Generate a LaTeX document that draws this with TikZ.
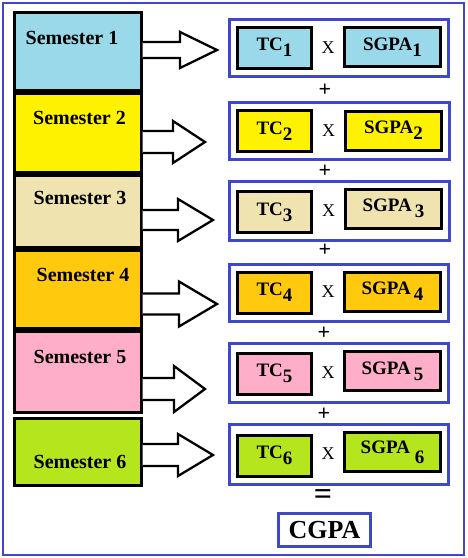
\documentclass[tikz,border=0pt]{standalone}
\usepackage{fontspec}
\setmainfont{Liberation Serif}
\definecolor{SemBlue}{HTML}{99D9EA}
\definecolor{SemYellow}{HTML}{FFF200}
\definecolor{SemTan}{HTML}{EFE4B0}
\definecolor{SemGold}{HTML}{FFC90E}
\definecolor{SemPink}{HTML}{FFAEC9}
\definecolor{SemLime}{HTML}{B5E61D}
\definecolor{FrameBlue}{HTML}{3F48CC}
\usetikzlibrary{positioning,fit,calc}

\tikzset{
  sembox/.style={draw, line width=3pt, minimum width=127pt, inner sep=0pt},
  semlabel/.style={font=\fontsize{20}{22}\selectfont\bfseries},
  valbox/.style={draw, line width=3pt, inner sep=0pt, font=\fontsize{19}{21}\selectfont\bfseries},
  tcbox/.style={valbox, minimum width=74pt, minimum height=41pt},
  sgbox/.style={valbox, minimum width=96pt, minimum height=39pt},
  rowframe/.style={draw=FrameBlue, line width=3pt, inner sep=6.5pt},
  blockarrow/.style={draw, line width=2.3pt, fill=white, line join=miter},
  timessign/.style={font=\fontsize{18}{20}\selectfont},
  opsign/.style={font=\fontsize{22}{24}\selectfont\bfseries}
}

\newcommand\lowsub[1]{\raisebox{-6pt}{#1}}
% block arrow: from node, centre y, half shaft, half head, head base x, tip x
\newcommand\semarrow[6]{%
  \draw[blockarrow] (#1.east |- 0,#2-#3) -- (#5,#2-#3) -- (#5,#2-#4) -- (#6,#2)
    -- (#5,#2+#4) -- (#5,#2+#3) -- (#1.east |- 0,#2+#3);}

\begin{document}
\begin{tikzpicture}[x=1pt, y=-1pt]
  \useasboundingbox (0,0) rectangle (467,558);
  \draw[FrameBlue, line width=2.5pt] (3,3) rectangle (464,555);

  % semester column
  \node[sembox, fill=SemBlue, minimum height=78pt] (s1) at (77.5,51.5) {};
  \node[sembox, fill=SemYellow, minimum height=79pt] (s2) at (77.5,133) {};
  \node[sembox, fill=SemTan, minimum height=72pt] (s3) at (77.5,211.5) {};
  \node[sembox, fill=SemGold, minimum height=78pt] (s4) at (77.5,289.5) {};
  \node[sembox, fill=SemPink, minimum height=81pt] (s5) at (77.5,372) {};
  \node[sembox, fill=SemLime, minimum height=67pt] (s6) at (77.5,452) {};
  \node[semlabel] (l1) at (72,38) {Semester 1};
  \node[semlabel] (l2) at (79.5,118) {Semester 2};
  \node[semlabel] (l3) at (80,198) {Semester 3};
  \node[semlabel] (l4) at (83,275) {Semester 4};
  \node[semlabel] (l5) at (80,357) {Semester 5};
  \node[semlabel] (l6) at (80,462) {Semester 6};

  % TC x SGPA rows
  \node[tcbox, fill=SemBlue] (tc1) at (274.5,47.5) {TC\lowsub{1}};
  \node[sgbox, fill=SemBlue] (sg1) at (392.5,47) {SGPA\lowsub{1}};
  \node[tcbox, fill=SemYellow] (tc2) at (274.5,131) {TC\lowsub{2}};
  \node[sgbox, fill=SemYellow] (sg2) at (393.5,130.5) {SGPA\lowsub{2}};
  \node[tcbox, fill=SemTan] (tc3) at (274.5,212) {TC\lowsub{3}};
  \node[sgbox, fill=SemTan] (sg3) at (393.5,208.5) {SGPA\,\lowsub{3}};
  \node[tcbox, fill=SemGold] (tc4) at (274.5,292.5) {TC\lowsub{4}};
  \node[sgbox, fill=SemGold] (sg4) at (392.5,291.5) {SGPA\,\lowsub{4}};
  \node[tcbox, fill=SemPink] (tc5) at (274.5,373.5) {TC\lowsub{5}};
  \node[sgbox, fill=SemPink] (sg5) at (392.5,371) {SGPA\,\lowsub{5}};
  \node[tcbox, fill=SemLime] (tc6) at (274.5,455.5) {TC\lowsub{6}};
  \node[sgbox, fill=SemLime] (sg6) at (392.5,452) {SGPA \raisebox{-10pt}{6}};
  \foreach \i in {1,...,6} {
    \node[timessign] (x\i) at ($(tc\i.east)!0.5!(sg\i.west)$) {X};
    \node[rowframe, fit=(tc\i)(sg\i)] (f\i) {};
  }

  % signs between rows
  \node[opsign] (p1) at (325,90) {+};
  \node[opsign] (p2) at (325,171) {+};
  \node[opsign] (p3) at (325,250) {+};
  \node[opsign] (p4) at (324,333) {+};
  \node[opsign] (p5) at (324,414) {+};
  \node[font=\fontsize{32}{34}\selectfont\bfseries] (eq) at (323,497) {=};
  \node[draw=FrameBlue, line width=3pt, minimum width=92pt, minimum height=33pt,
        font=\fontsize{26}{28}\selectfont\bfseries] (cgpa) at (324.5,530) {CGPA};

  % arrows
  \semarrow{s1}{50}{8}{18}{180}{217}
  \semarrow{s2}{142}{11}{21}{173}{205}
  \semarrow{s3}{220}{10}{21}{178}{213}
  \semarrow{s4}{304}{10.5}{22.5}{179}{217}
  \semarrow{s5}{389}{11}{23}{174}{205}
  \semarrow{s6}{455}{11}{21}{178}{213}
\end{tikzpicture}
\end{document}
